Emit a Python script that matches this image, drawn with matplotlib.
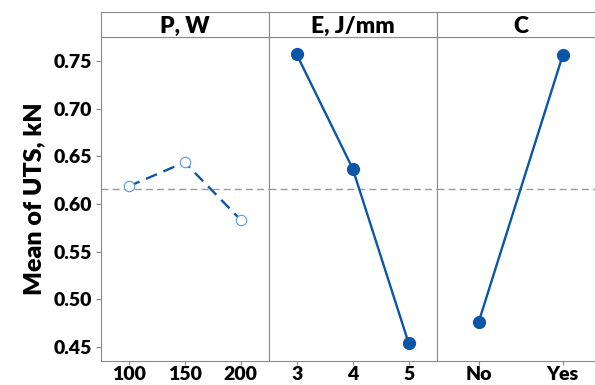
import matplotlib
matplotlib.use("Agg")
import matplotlib.pyplot as plt

plt.rcParams['font.family'] = ['Lato', 'DejaVu Sans']
plt.rcParams['font.weight'] = 'bold'

# Data
panel_titles = ["P, W", "E, J/mm", "C"]
p_levels = ["100", "150", "200"]
p_means = [0.6185, 0.6437, 0.5832]
e_levels = ["3", "4", "5"]
e_means = [0.757, 0.637, 0.4536]
c_levels = ["No", "Yes"]
c_means = [0.476, 0.756]
y_ticks = [0.45, 0.50, 0.55, 0.60, 0.65, 0.70, 0.75]
y_label = "Mean of UTS, kN"

grand_mean = (sum(p_means) / len(p_means) + sum(e_means) / len(e_means) + sum(c_means) / len(c_means)) / 3

W, H = 595, 385
fig = plt.figure(figsize=(W / 100, H / 100), dpi=100)

line_col = '#0B56A6'
spine_col = '#8a8a8a'
left0 = 100.7
width_px = 168.0
top_px, bot_px, head_top_px = 37.3, 360.7, 12.3
FW = 'heavy'

levels = [p_levels, e_levels, c_levels]
means = [p_means, e_means, c_means]

for i in range(3):
    x0 = (left0 + i * width_px) / W
    ax = fig.add_axes([x0, 1 - bot_px / H, width_px / W, (bot_px - top_px) / H])
    hx = fig.add_axes([x0, 1 - top_px / H, width_px / W, (top_px - head_top_px) / H])
    n = len(levels[i])
    xs = list(range(1, n + 1))
    ax.axhline(grand_mean, color='#9a9a9a', lw=1.0, ls=(0, (5, 3)), zorder=1)
    if i == 0:
        ax.plot(xs, means[i], color=line_col, lw=1.7, ls=(0, (5, 3)), zorder=2)
        ax.plot(xs, means[i], ls='none', marker='o', ms=7.5, mfc='white',
                mec='#5c9ad8', mew=0.8, zorder=3)
    else:
        ax.plot(xs, means[i], color=line_col, lw=1.7, marker='o', ms=8.5,
                mfc=line_col, mec=line_col, zorder=3)
    ax.set_xlim(0.5, n + 0.5)
    ax.set_ylim(0.4353, 0.775)
    ax.set_xticks(xs)
    ax.set_xticklabels(levels[i], fontsize=14, fontweight=FW)
    ax.tick_params(axis='x', length=3, width=0.8, color=spine_col, pad=1)
    if i == 0:
        ax.set_yticks(y_ticks)
        ax.set_yticklabels([f"{v:.2f}" for v in y_ticks], fontsize=14, fontweight=FW)
        ax.tick_params(axis='y', length=3.5, width=0.8, color=spine_col, pad=3)
        ax.set_ylabel(y_label, fontsize=18, fontweight=FW, labelpad=6)
    else:
        ax.set_yticks([])
    for s in ax.spines.values():
        s.set_color(spine_col)
        s.set_linewidth(0.8)
    hx.set_xticks([])
    hx.set_yticks([])
    for s in hx.spines.values():
        s.set_color(spine_col)
        s.set_linewidth(0.8)
    hx.text(0.5, 0.45, panel_titles[i], transform=hx.transAxes, ha='center',
            va='center', fontsize=16.5, fontweight=FW)

fig.savefig("out.png", dpi=100)
